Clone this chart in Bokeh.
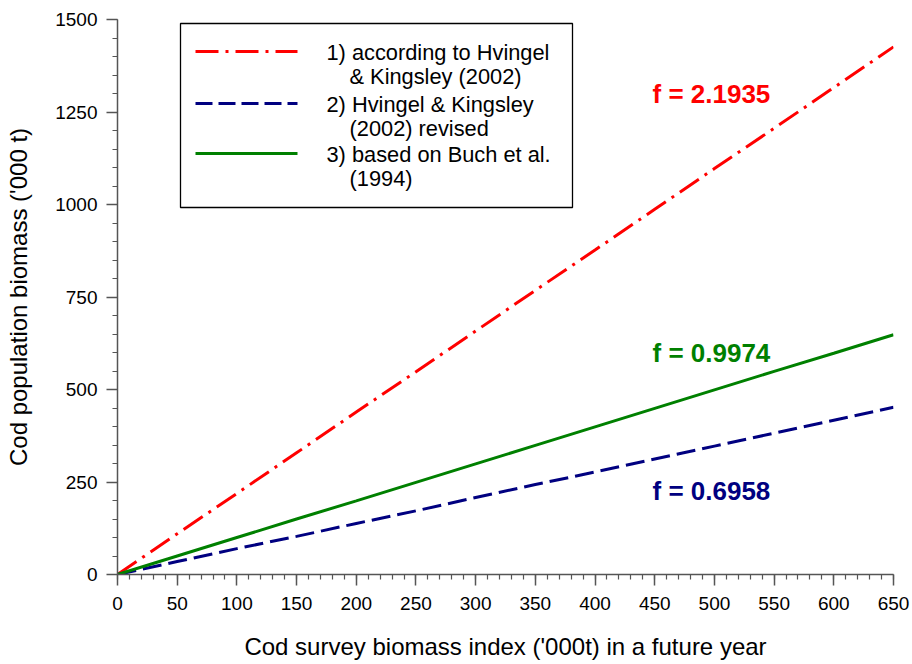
from bokeh.plotting import figure
from bokeh.models import Range1d, FixedTicker
from bokeh.core.properties import value
from bokeh.embed import file_html
from bokeh.resources import INLINE

# ---- data ----
x_index = [0, 50, 100, 150, 200, 250, 300, 350, 400, 450, 500, 550, 600, 650]
red_hk2002 = [0, 110, 219, 329, 439, 548, 658, 768, 877, 987, 1097, 1206, 1316, 1426]
blue_hk_revised = [0, 35, 70, 103, 138, 172, 208, 243, 277, 312, 347, 382, 417, 452]
green_buch = [0, 50, 100, 150, 199, 249, 299, 349, 399, 449, 499, 549, 598, 648]

x_ticks = [0, 50, 100, 150, 200, 250, 300, 350, 400, 450, 500, 550, 600, 650]
x_minor = list(range(0, 651, 10))
y_ticks = [0, 250, 500, 750, 1000, 1250, 1500]
y_minor = list(range(0, 1501, 50))

legend_labels = [
    ("1) according to Hvingel", "& Kingsley (2002)"),
    ("2) Hvingel & Kingsley", "(2002) revised"),
    ("3) based on Buch et al.", "(1994)"),
]
f_labels = ["f = 2.1935", "f = 0.9974", "f = 0.6958"]

RED, BLUE, GREEN = "#FF0000", "#000080", "#008000"
FONT = "Liberation Sans"

W, H = 912, 664
L, R, T, B = 117, 19, 19, 90
XMAX, YMAX = 650, 1500
fw, fh = W - L - R, H - T - B


def dx(px):
    return (px - L) * XMAX / fw


def dy(py):
    return (H - B - py) * YMAX / fh


p = figure(width=W, height=H, output_backend="svg", toolbar_location=None,
           x_range=Range1d(0, XMAX), y_range=Range1d(0, YMAX),
           min_border_left=L, min_border_right=R, min_border_top=T, min_border_bottom=B)
p.outline_line_color = None
p.xgrid.visible = False
p.ygrid.visible = False
p.background_fill_color = "white"
p.border_fill_color = "white"

p.xaxis.ticker = FixedTicker(ticks=x_ticks, minor_ticks=x_minor)
p.yaxis.ticker = FixedTicker(ticks=y_ticks, minor_ticks=y_minor)
for ax in (p.xaxis, p.yaxis):
    ax.axis_line_color = "#555555"
    ax.axis_line_width = 1.5
    ax.major_tick_line_color = "#555555"
    ax.minor_tick_line_color = "#555555"
    ax.major_tick_line_width = 1.5
    ax.minor_tick_line_width = 1.2
    ax.major_tick_out = 11
    ax.major_tick_in = 0
    ax.minor_tick_out = 5
    ax.minor_tick_in = 0
    ax.major_label_text_font = FONT
    ax.major_label_text_font_size = "19px"
    ax.major_label_text_color = "black"
    ax.axis_label_text_font = FONT
    ax.axis_label_text_font_size = "24px"
    ax.axis_label_text_font_style = "normal"
    ax.axis_label_text_color = "black"

p.xaxis.axis_label = "Cod survey biomass index ('000t) in a future year"
p.yaxis.axis_label = "Cod population biomass ('000 t)"
p.xaxis.major_label_standoff = 11
p.yaxis.major_label_standoff = 9
p.xaxis.axis_label_standoff = 20
p.yaxis.axis_label_standoff = 20

# legend box (manual), drawn first so that it sits beneath everything else
p.quad(left=[dx(180)], right=[dx(572)], top=[dy(23)], bottom=[dy(207)],
       fill_color="white", line_color="black", line_width=1.3)

# series
DASHDOT = "23 7 3 7"
DASH = "19 7"
p.line(x_index, red_hk2002, line_color=RED, line_width=3, line_dash=DASHDOT)
p.line(x_index, blue_hk_revised, line_color=BLUE, line_width=3, line_dash=DASH)
p.line(x_index, green_buch, line_color=GREEN, line_width=3)

# f annotations
f_colors = [RED, GREEN, BLUE]
f_py = [93, 352, 490]
for txt, col, py in zip(f_labels, f_colors, f_py):
    p.text(x=[dx(652)], y=[dy(py)], text=[txt], text_color=col,
           text_font=value(FONT), text_font_size="26px", text_font_style="bold",
           text_align="left", text_baseline="middle")

# legend entries
leg_styles = [(RED, DASHDOT), (BLUE, "17 6"), (GREEN, "solid")]
leg_py = [51, 103, 153]
for (col, dash), py, (l1, l2) in zip(leg_styles, leg_py, legend_labels):
    p.line([dx(195), dx(297)], [dy(py), dy(py)], line_color=col, line_width=3, line_dash=dash)
    p.text(x=[dx(326)], y=[dy(py + 1)], text=[l1], text_color="black",
           text_font=value(FONT), text_font_size="21.8px",
           text_align="left", text_baseline="middle")
    p.text(x=[dx(349)], y=[dy(py + 25)], text=[l2], text_color="black",
           text_font=value(FONT), text_font_size="21.8px",
           text_align="left", text_baseline="middle")

open("out.html", "w").write(file_html(p, INLINE))
